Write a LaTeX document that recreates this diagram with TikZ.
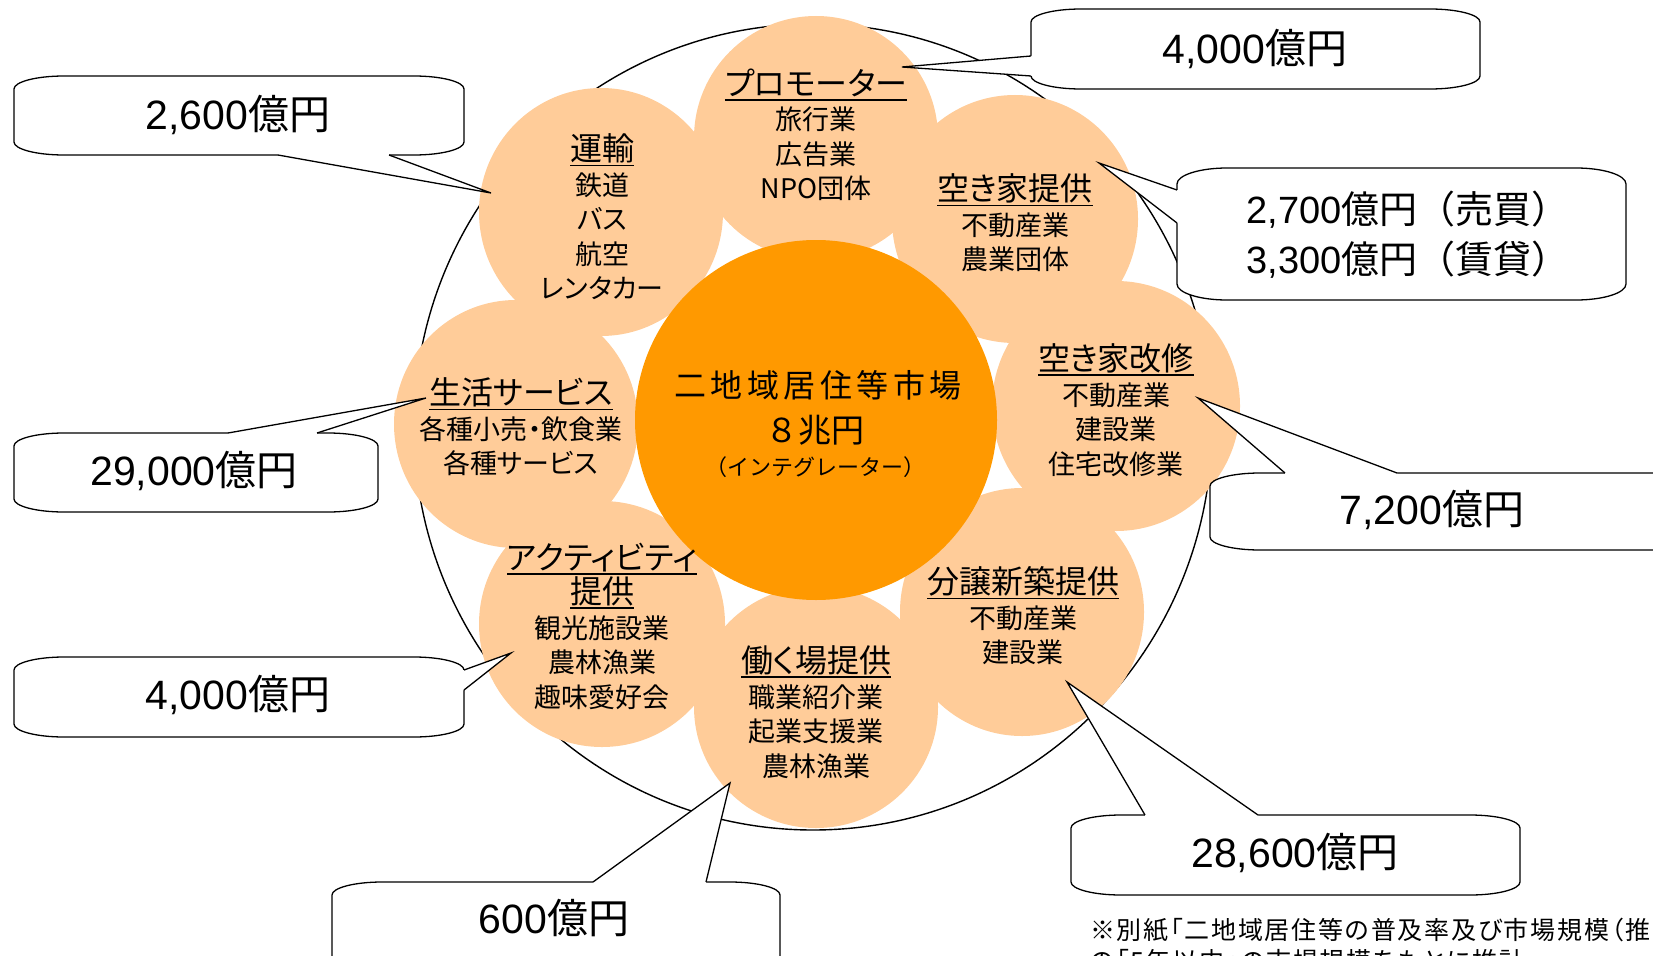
\documentclass[tikz,border=0pt]{standalone}
\usepackage{fontspec}
\setmainfont[RawFeature=+palt]{Noto Sans CJK JP}
\newfontfamily\lat{Liberation Sans}
\newfontfamily\jpn{Noto Sans CJK JP}
\newfontfamily\cwide[LetterSpace=14]{Noto Sans CJK JP}
\newfontfamily\fnf[RawFeature=+palt,LetterSpace=7]{Noto Sans CJK JP}
\usetikzlibrary{shapes.geometric}
\definecolor{peach}{RGB}{255,204,153}
\definecolor{orng}{RGB}{255,153,0}
\newsavebox\ulbox
\newcommand\ulx[1]{\sbox\ulbox{#1}\rlap{\rule[-5.5pt]{\wd\ulbox}{1.8pt}}\usebox\ulbox}
\newcommand\ttl[1]{{\fontsize{32}{34.5}\selectfont\ulx{#1}}}
\def\rx{50}
\def\ry{13}
\newcommand\cbox[4]{%
 \draw[cb] (#1,#2+\ry) .. controls (#1,#2+\ry*0.448) and (#1+\rx*0.448,#2) .. (#1+\rx,#2)
 -- (#3-\rx,#2) .. controls (#3-\rx*0.448,#2) and (#3,#2+\ry*0.448) .. (#3,#2+\ry)
 -- (#3,#4-\ry) .. controls (#3,#4-\ry*0.448) and (#3-\rx*0.448,#4) .. (#3-\rx,#4)
 -- (#1+\rx,#4) .. controls (#1+\rx*0.448,#4) and (#1,#4-\ry*0.448) .. (#1,#4-\ry) -- cycle;}
\newcommand\cptr[5]{%
 \fill[white] (#2) -- (#1) -- (#3) -- (#4) -- (#5) -- cycle;
 \draw[cl] (#1) -- (#3) -- (#4);}
\tikzset{
 cb/.style={draw=black, fill=white, line width=1.3pt},
 cl/.style={draw=black, line width=1.3pt, line join=miter},
 ptxt/.style={align=center, inner sep=0pt, font=\fontsize{27}{34.5}\selectfont},
 ctxt/.style={align=center, inner sep=0pt, font=\fontsize{41}{50}\selectfont},
}
\begin{document}
\begin{tikzpicture}[x=1pt,y=-1pt]
\useasboundingbox (0,0) rectangle (1653,955);
\clip (0,0) rectangle (1653,955);
% outer outline
\draw[line width=1.4pt] (813,427) ellipse [x radius=399pt, y radius=403pt];
% peach ellipses
\fill[peach] (816,138) ellipse [x radius=122pt, y radius=122pt];
\fill[peach] (601,212) ellipse [x radius=122pt, y radius=124pt];
\fill[peach] (1015,219) ellipse [x radius=123pt, y radius=124pt];
\fill[peach] (1116,406) ellipse [x radius=124pt, y radius=125pt];
\fill[peach] (516,424) ellipse [x radius=122pt, y radius=124pt];
\fill[peach] (602,624) ellipse [x radius=123pt, y radius=123pt];
\fill[peach] (816,707) ellipse [x radius=122pt, y radius=121pt];
\fill[peach] (1022,612) ellipse [x radius=122pt, y radius=124pt];
% centre
\fill[orng] (816,420) ellipse [x radius=181pt, y radius=180pt];
% peach texts
\node[ptxt] (t1) at (816,135) {\ttl{プロモーター}\\旅行業\\広告業\\NPO団体};
\node[ptxt] (t2) at (602,217) {\ttl{運輸}\\鉄道\\バス\\航空\\レンタカー};
\node[ptxt] (t3) at (1015,223) {\ttl{空き家提供}\\不動産業\\農業団体};
\node[ptxt] (t4) at (1116,410) {\ttl{空き家改修}\\不動産業\\建設業\\住宅改修業};
\node[ptxt] (t5) at (521,427) {\ttl{生活サービス}\\各種小売・飲食業\\各種サービス};
\node[ptxt] (t6) at (602,626) {\ttl{アクティビティ}\\\ttl{提供}\\観光施設業\\農林漁業\\趣味愛好会};
\node[ptxt] (t7) at (816,712) {\ttl{働く場提供}\\職業紹介業\\起業支援業\\農林漁業};
\node[ptxt] (t8) at (1023,616) {\ttl{分譲新築提供}\\不動産業\\建設業};
% centre text
\node[inner sep=0pt, font=\cwide\fontsize{32}{40}\selectfont] (m1) at (818,385) {二地域居住等市場};
\node[inner sep=0pt, font=\jpn\fontsize{33}{40}\selectfont] (m2) at (815,430) {８兆円};
\node[inner sep=0pt, font=\jpn\fontsize{22}{30}\selectfont] (m3) at (815,467) {（インテグレーター）};
% callouts
\cbox{14}{76}{464}{155}
\cptr{278,155}{278,151}{491,193}{389,155}{389,151}
\node[ctxt] (c1) at (238,115) {{\lat 2,600}億円};
\cbox{1031}{9}{1480}{89}
\cptr{1031,76}{1035,76}{902,67}{1031,56}{1035,56}
\node[ctxt] (c2) at (1255,49) {{\lat 4,000}億円};
\def\ry{16}
\cbox{1177}{168}{1626}{300}
\cptr{1177,190}{1181,190}{1099,163}{1177,223}{1181,223}
\node[ctxt, font=\jpn\fontsize{38}{50}\selectfont] (c3) at (1408,235) {{\lat 2,700}億円（売買）\\{\lat 3,300}億円（賃貸）};
\def\ry{13}
\cbox{1210}{473}{1700}{550}
\cptr{1285,473}{1285,477}{1198,398}{1397,473}{1397,477}
\node[ctxt] (c4) at (1432,510) {{\lat 7,200}億円};
\cbox{14}{433}{378}{512}
\cptr{228,433}{228,437}{426,398}{317,433}{317,437}
\node[ctxt] (c5) at (194,471) {{\lat 29,000}億円};
\cbox{14}{657}{464}{737}
\cptr{464,670}{460,670}{511,653}{464,690}{460,690}
\node[ctxt] (c6) at (238,695) {{\lat 4,000}億円};
\cbox{332}{882}{780}{990}
\cptr{593,882}{593,886}{730,783}{706,882}{706,886}
\node[ctxt] (c7) at (554,918) {{\lat 600}億円};
\cbox{1071}{815}{1520}{895}
\cptr{1145,815}{1145,819}{1067,682}{1258,815}{1258,819}
\node[ctxt] (c8) at (1295,853) {{\lat 28,600}億円};
% footnote
\node[anchor=west, inner sep=0pt, font=\fnf\fontsize{25}{28}\selectfont] (f1) at (1090,930) {※別紙「二地域居住等の普及率及び市場規模（推};
\node[anchor=west, inner sep=0pt, font=\fnf\fontsize{25}{28}\selectfont] (f2) at (1090,961) {の「5年以内」の市場規模をもとに推計};
\end{tikzpicture}
\end{document}
